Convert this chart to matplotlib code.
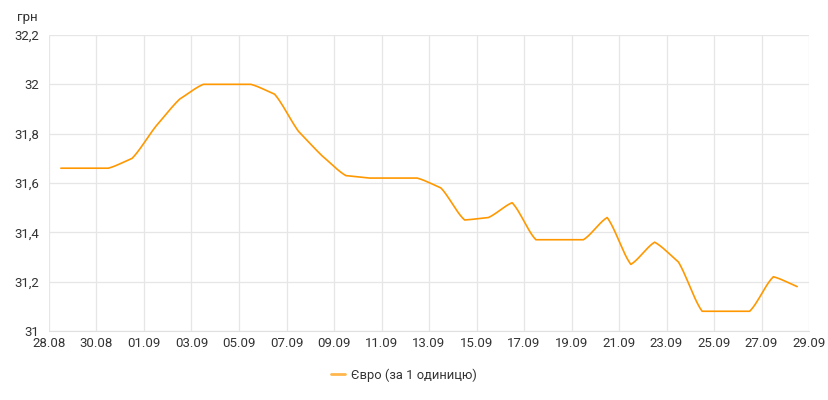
import numpy as np
import matplotlib
matplotlib.use('Agg')
import matplotlib.pyplot as plt

plt.rcParams['font.family'] = ['Roboto', 'DejaVu Sans']

## Data (one value per day, plotted at midday)
day_index = np.arange(32)
euro_rate = [31.66, 31.66, 31.66, 31.70, 31.83, 31.94, 32.00, 32.00,
             32.00, 31.96, 31.81, 31.71, 31.63, 31.62, 31.62, 31.62,
             31.58, 31.45, 31.46, 31.52, 31.37, 31.37, 31.37, 31.46,
             31.27, 31.36, 31.28, 31.08, 31.08, 31.08, 31.22, 31.18]
tick_labels = ['28.08', '30.08', '01.09', '03.09', '05.09', '07.09', '09.09',
               '11.09', '13.09', '15.09', '17.09', '19.09', '21.09', '23.09',
               '25.09', '27.09', '29.09']
y_ticks = [31, 31.2, 31.4, 31.6, 31.8, 32, 32.2]
series_name = 'Євро (за 1 одиницю)'


def soft_curve(x, y, tension=0.35, n=20):
    # hermite curve with damped monotone tangents -> lines with rounded corners
    x = np.asarray(x, float)
    y = np.asarray(y, float)
    h = np.diff(x)
    d = np.diff(y) / h
    m = np.zeros_like(y)
    for k in range(1, len(y) - 1):
        if d[k - 1] * d[k] > 0:
            p = (d[k-1] * h[k] + d[k] * h[k-1]) / (h[k-1] + h[k])
            m[k] = np.sign(p) * min(abs(d[k-1]), abs(d[k]), abs(p))
    m[0], m[-1] = d[0], d[-1]
    xs, ys = [], []
    for k in range(len(x) - 1):
        t = np.linspace(0, 1, n, endpoint=False)
        h00 = 2*t**3 - 3*t**2 + 1
        h10 = t**3 - 2*t**2 + t
        h01 = -2*t**3 + 3*t**2
        h11 = t**3 - t**2
        # blend tangent with the straight chord to keep it nearly linear
        m0 = tension * m[k] + (1 - tension) * d[k]
        m1 = tension * m[k+1] + (1 - tension) * d[k]
        xs.append(x[k] + t * h[k])
        ys.append(h00*y[k] + h10*h[k]*m0 + h01*y[k+1] + h11*h[k]*m1)
    xs.append([x[-1]])
    ys.append([y[-1]])
    return np.concatenate(xs), np.concatenate(ys)


fig = plt.figure(figsize=(8.29, 4), dpi=100)
ax = fig.add_axes([0.0591, 0.1725, 0.9168, 0.74])

xs, ys = soft_curve(day_index + 0.5, euro_rate)
ax.plot(xs, ys, color='#ff9800', lw=1.2, label=series_name, solid_capstyle='round')

ax.set_xlim(0, 32)
ax.set_ylim(31, 32.2)
ax.set_xticks(np.arange(0, 33, 2))
ax.set_xticklabels(tick_labels)
ax.set_yticks(y_ticks)
ax.set_yticklabels([('%g' % v).replace('.', ',') for v in y_ticks])

ax.grid(True, color='#e6e6e6', lw=0.9)
ax.set_axisbelow(True)
for s in ax.spines.values():
    s.set_visible(False)
ax.spines['bottom'].set_visible(True)
ax.spines['bottom'].set_color('#e0e0e0')
ax.tick_params(length=0, labelsize=9.5, colors='#333333')
ax.tick_params(axis='x', pad=4)
ax.tick_params(axis='y', pad=7)

fig.text(17 / 829, 1 - 17 / 400, 'грн', fontsize=9.5, color='#333333', va='center', ha='left')

leg = fig.legend(loc='center', bbox_to_anchor=(404 / 829, 1 - 375 / 400), frameon=False,
                 fontsize=9.3, handlelength=1.1, handletextpad=0.5)
leg.get_lines()[0].set_linewidth(2)
leg.get_lines()[0].set_color('#ffb74d')
for t in leg.get_texts():
    t.set_color('#333333')

fig.savefig('out.png', dpi=100)
